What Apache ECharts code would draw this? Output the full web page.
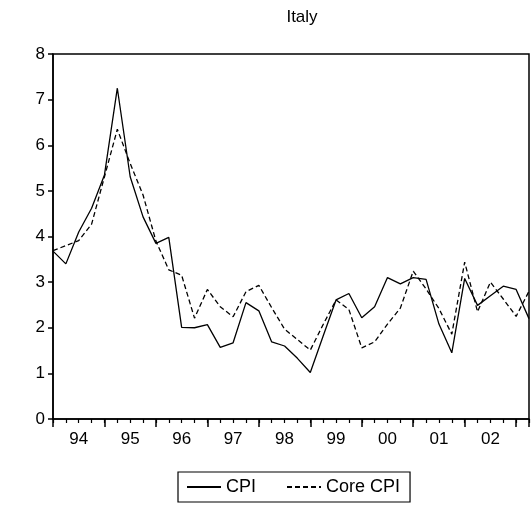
<!DOCTYPE html>
<html>
<head>
<meta charset="utf-8">
<script src="https://cdn.jsdelivr.net/npm/echarts@6/dist/echarts.min.js"></script>
<style>html,body{margin:0;padding:0;background:#fff}#c{width:532px;height:505px}</style>
</head>
<body>
<div id="c"></div>
<script>
// Quarterly observations, 1994Q1 onward (index 0 = 1994Q1)
const quarters = [0,1,2,3,4,5,6,7,8,9,10,11,12,13,14,15,16,17,18,19,20,21,22,23,24,25,26,27,28,29,30,31,32,33,34,35,36,37];
const cpi = [3.68,3.40,4.10,4.62,5.35,7.25,5.31,4.43,3.85,3.98,2.01,2.00,2.07,1.57,1.67,2.55,2.37,1.69,1.60,1.33,1.02,1.82,2.61,2.75,2.22,2.46,3.10,2.96,3.10,3.06,2.08,1.45,3.08,2.49,2.70,2.91,2.84,2.20];
const coreCpi = [3.69,3.80,3.91,4.27,5.31,6.35,5.60,4.91,3.90,3.27,3.15,2.21,2.84,2.46,2.24,2.79,2.93,2.44,1.97,1.74,1.51,2.07,2.61,2.40,1.56,1.69,2.08,2.43,3.24,2.85,2.42,1.86,3.44,2.35,3.00,2.63,2.25,2.80];
const yearLabels = ['94','95','96','97','98','99','00','01','02'];
const yTicks = [0,1,2,3,4,5,6,7,8];

const FONT = 'Liberation Sans, Arial, sans-serif';
const chart = echarts.init(document.getElementById('c'), null, {renderer:'canvas'});
const nQ = quarters.length - 1;
chart.setOption({
  animation:false,
  backgroundColor:'#fff',
  title:{text:'Italy', left:297, top:4, textAlign:'center',
    textStyle:{fontFamily:FONT, fontSize:17, fontWeight:'normal', color:'#000'}},
  legend:{
    left:178, top:472, orient:'horizontal',
    borderColor:'#000', borderWidth:1.2, padding:[6,10,6,8],
    itemWidth:34, itemHeight:12, itemGap:30,
    itemStyle:{opacity:0},
    textStyle:{fontFamily:FONT, fontSize:18, color:'#000'},
    data:['CPI','Core CPI']
  },
  grid:{left:53, top:54, width:488, height:365, show:true, borderColor:'#000', borderWidth:1.5, backgroundColor:'transparent'},
  xAxis:[
    {type:'value', min:0, max:nQ, interval:4, position:'bottom',
      axisLine:{show:true, lineStyle:{color:'#000', width:1.5}},
      axisTick:{show:true, length:8, lineStyle:{color:'#000', width:1.5}},
      axisLabel:{show:false}, splitLine:{show:false}},
    {type:'value', min:0, max:nQ, interval:1, position:'bottom', gridIndex:0,
      axisLine:{show:false},
      axisTick:{show:true, length:4, lineStyle:{color:'#000', width:1.2}},
      axisLabel:{show:false}, splitLine:{show:false}},
    {type:'value', min:0, max:nQ, interval:2, position:'bottom', gridIndex:0,
      axisLine:{show:false}, axisTick:{show:false}, splitLine:{show:false},
      axisLabel:{show:true, margin:12, fontFamily:FONT, fontSize:17, color:'#000',
        showMinLabel:true, showMaxLabel:true,
        formatter:function(v){ if ((v-2)%4!==0) return ''; const k=(v-2)/4; return yearLabels[k]||''; }}}
  ],
  yAxis:{type:'value', min:yTicks[0], max:yTicks[yTicks.length-1], interval:1,
    axisLine:{show:true, lineStyle:{color:'#000', width:1.5}},
    axisTick:{show:true, length:5, lineStyle:{color:'#000', width:1.5}},
    axisLabel:{fontFamily:FONT, fontSize:17, color:'#000', margin:8},
    splitLine:{show:false}},
  series:[
    {name:'CPI', type:'line', xAxisIndex:0, symbol:'none', data:quarters.map((q,i)=>[q,cpi[i]]),
      lineStyle:{color:'#000', width:1.3, type:'solid'}, itemStyle:{color:'#000'}},
    {name:'Core CPI', type:'line', xAxisIndex:0, symbol:'none', data:quarters.map((q,i)=>[q,coreCpi[i]]),
      lineStyle:{color:'#000', width:1.3, type:[5,3]}, itemStyle:{color:'#000'}}
  ]
});
</script>
</body>
</html>
